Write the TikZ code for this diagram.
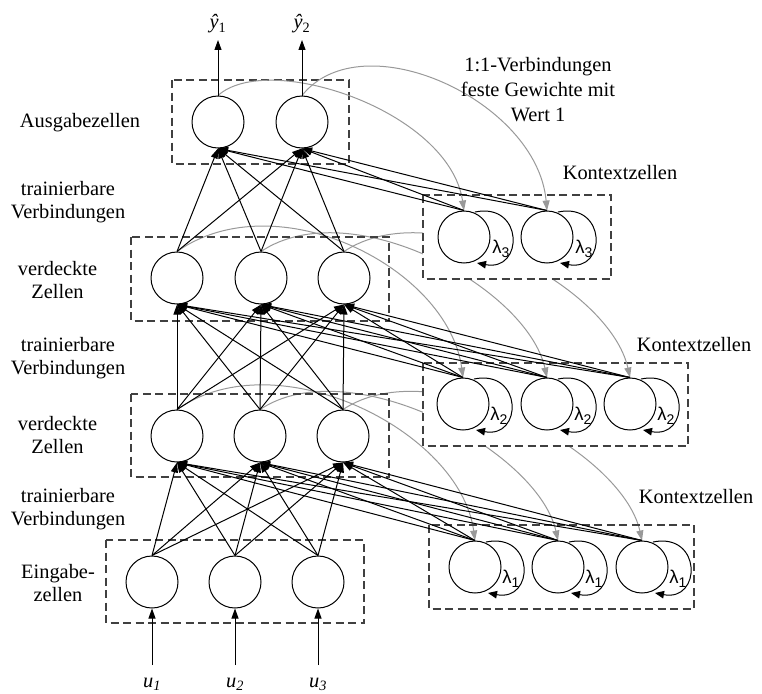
\documentclass[tikz,border=0pt]{standalone}
\usepackage{fontspec}
\setmainfont{Liberation Serif}
\newfontfamily\lamfont{Liberation Sans}
\usetikzlibrary{arrows.meta}
\pgfdeclarelayer{lowcopy}
\pgfdeclarelayer{midbox}
\pgfdeclarelayer{midcopy}
\pgfdeclarelayer{topbox}
\pgfsetlayers{lowcopy,midbox,midcopy,topbox,main}
% decay factor label of a context cell
\newcommand\lamlabel[1]{{\lamfont\fontsize{18.5}{18.5}\selectfont λ\raisebox{-4.5pt}{\fontsize{14}{14}\selectfont #1}}}
\begin{document}
\begin{tikzpicture}[x=1pt,y=-1pt,
  neuron/.style={circle, draw, line width=1pt, minimum size=52pt, inner sep=0pt},
  groupbox/.style={draw=black!75, dash pattern=on 8pt off 4.5pt, line width=1.2pt},
  wire/.style={line width=1pt, -{Triangle[length=10pt,width=7pt]}},
  copyline/.style={draw=black!40, line width=1pt, -{Triangle[length=10pt,width=7pt]}},
  selfloop/.style={line width=1pt, -{Triangle[length=9pt,width=7.5pt]}},
  txt/.style={font=\fontsize{20.4}{23.5}\selectfont, align=center, inner sep=0pt},
  lam/.style={inner sep=0pt}]
\useasboundingbox (0,0) rectangle (762,693);

% ---- cells ----
\node[neuron] (o1) at (218,122) {};
\node[neuron] (o2) at (302,122) {};
\node[neuron] (h21) at (177,278) {};
\node[neuron] (h22) at (261,278) {};
\node[neuron] (h23) at (344,278) {};
\node[neuron] (h11) at (177,436) {};
\node[neuron] (h12) at (260,436) {};
\node[neuron] (h13) at (343,436) {};
\node[neuron] (i1) at (152,582) {};
\node[neuron] (i2) at (235,582) {};
\node[neuron] (i3) at (318,582) {};
\node[neuron] (c31) at (464,237) {};
\node[neuron] (c32) at (547,237) {};
\node[neuron] (c21) at (463,404) {};
\node[neuron] (c22) at (547,404) {};
\node[neuron] (c23) at (630,404) {};
\node[neuron] (c11) at (475,567) {};
\node[neuron] (c12) at (558,567) {};
\node[neuron] (c13) at (642,567) {};

% ---- group frames ----
\draw[groupbox] (172,80) rectangle (349,164);
\draw[groupbox] (131,237) rectangle (389,321);
\draw[groupbox] (131,394) rectangle (389,477);
\draw[groupbox] (106,540) rectangle (364,623);
\draw[groupbox] (429,525) rectangle (694,609);
\begin{pgfonlayer}{midbox}
  \draw[groupbox, fill=white] (423,363) rectangle (688,446);
\end{pgfonlayer}
\begin{pgfonlayer}{topbox}
  \draw[groupbox, fill=white] (423,195) rectangle (611,279);
\end{pgfonlayer}

% ---- 1:1 copy connections (fixed weight 1) ----
\begin{pgfonlayer}{lowcopy}
  \draw[copyline] (h11.north) .. controls +(100,-70) and +(-15,-110) .. (c11.north);
  \draw[copyline] (h12.north) .. controls +(90,-60) and +(-20,-90) .. (c12.north);
  \draw[copyline] (h13.north) .. controls +(90,-60) and +(-20,-90) .. (c13.north);
\end{pgfonlayer}
\begin{pgfonlayer}{midcopy}
  \draw[copyline] (h21.north) .. controls +(100,-70) and +(-15,-110) .. (c21.north);
  \draw[copyline] (h22.north) .. controls +(90,-60) and +(-20,-90) .. (c22.north);
  \draw[copyline] (h23.north) .. controls +(90,-60) and +(-20,-90) .. (c23.north);
\end{pgfonlayer}
\draw[copyline] (o1.north) .. controls +(50,-45) and +(-15,-100) .. (c31.north);
\draw[copyline] (o2.north) .. controls +(60,-75) and +(-10,-110) .. (c32.north);

% ---- trainable connections ----
\foreach \s in {i1,i2,i3,c11,c12,c13}
  \foreach \t in {h11,h12,h13}
    \draw[wire] (\s.north) -- (\t.south);
\foreach \s in {h11,h12,h13,c21,c22,c23}
  \foreach \t in {h21,h22,h23}
    \draw[wire] (\s.north) -- (\t.south);
\foreach \s in {h21,h22,h23,c31,c32}
  \foreach \t in {o1,o2}
    \draw[wire] (\s.north) -- (\t.south);

% ---- self-feedback of the context cells ----
\foreach \c in {c31,c32,c21,c22,c23,c11,c12,c13}
  \draw[selfloop] ([shift={(11,-25)}]\c.center) .. controls +(49,-10) and +(47,9) .. ([shift={(13,26)}]\c.center);
\node[lam] (l31) at (501,249) {\lamlabel{3}};
\node[lam] (l32) at (584,249) {\lamlabel{3}};
\node[lam] (l21) at (499,416) {\lamlabel{2}};
\node[lam] (l22) at (583,416) {\lamlabel{2}};
\node[lam] (l23) at (666,416) {\lamlabel{2}};
\node[lam] (l11) at (511,579) {\lamlabel{1}};
\node[lam] (l12) at (594,579) {\lamlabel{1}};
\node[lam] (l13) at (678,579) {\lamlabel{1}};

% ---- inputs and outputs ----
\coordinate (u1s) at (152,665);
\coordinate (u2s) at (235,665);
\coordinate (u3s) at (318,665);
\draw[wire] (u1s) -- (i1.south);
\draw[wire] (u2s) -- (i2.south);
\draw[wire] (u3s) -- (i3.south);
\node[txt] (u1) at (152,684) {\textit{u}\textsubscript{\textit{1}}};
\node[txt] (u2) at (235,684) {\textit{u}\textsubscript{\textit{2}}};
\node[txt] (u3) at (318,684) {\textit{u}\textsubscript{\textit{3}}};
\coordinate (y1e) at (218,40);
\coordinate (y2e) at (302,40);
\draw[wire] (o1.north) -- (y1e);
\draw[wire] (o2.north) -- (y2e);
\node[txt] (y1) at (218,24) {\textit{ŷ}\textsubscript{1}};
\node[txt] (y2) at (302,24) {\textit{ŷ}\textsubscript{2}};

% ---- captions ----
\node[txt] (tout) at (80,123) {Ausgabezellen};
\node[txt] (tw3) at (68,202) {trainierbare\\Verbindungen};
\node[txt] (th2) at (57.5,280) {verdeckte\\Zellen};
\node[txt] (tw2) at (68,358) {trainierbare\\Verbindungen};
\node[txt] (th1) at (57.5,435) {verdeckte\\Zellen};
\node[txt] (tw1) at (68,509) {trainierbare\\Verbindungen};
\node[txt] (tin) at (58,583) {Eingabe-\\zellen};
\node[txt, font=\fontsize{20.4}{25}\selectfont] (tcopy) at (538,90) {1:1-Verbindungen\\feste Gewichte mit\\Wert 1};
\node[txt] (tk3) at (620,173) {Kontextzellen};
\node[txt] (tk2) at (694,345) {Kontextzellen};
\node[txt] (tk1) at (696,497) {Kontextzellen};
\end{tikzpicture}
\end{document}
